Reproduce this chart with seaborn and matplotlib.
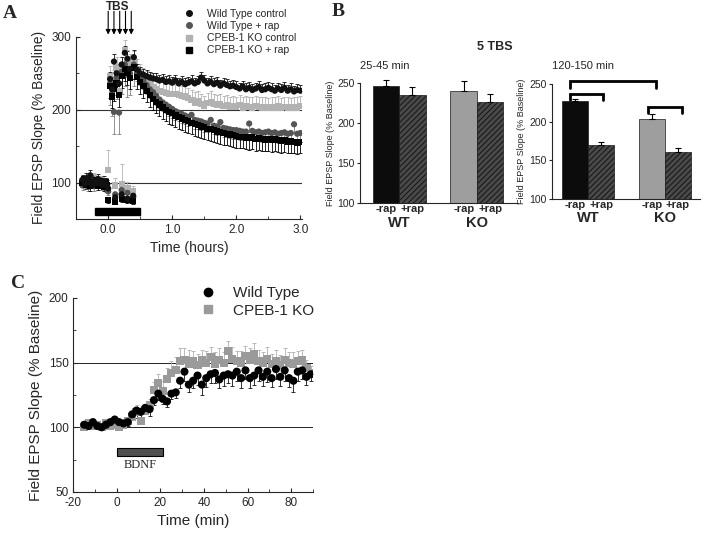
import numpy as np
import pandas as pd
import matplotlib
matplotlib.use('Agg')
import matplotlib.pyplot as plt
from matplotlib.lines import Line2D
from matplotlib.patches import Rectangle
from matplotlib.ticker import MultipleLocator
import seaborn as sns

# ---------------- Panel A : 5 TBS time course ----------------
series_a = ['Wild Type control', 'Wild Type + rap', 'CPEB-1 KO control', 'CPEB-1 KO + rap']
colors_a = {'Wild Type control': '#111111', 'Wild Type + rap': '#555555',
            'CPEB-1 KO control': '#b2b2b2', 'CPEB-1 KO + rap': '#000000'}
markers_a = {'Wild Type control': 'o', 'Wild Type + rap': 'o',
             'CPEB-1 KO control': 's', 'CPEB-1 KO + rap': 's'}
err_up_a = {'Wild Type control': True, 'Wild Type + rap': False,
            'CPEB-1 KO control': True, 'CPEB-1 KO + rap': False}

base_t = [-0.40, -0.37, -0.34, -0.31, -0.28, -0.25, -0.22, -0.19, -0.16, -0.13, -0.10, -0.07, -0.04, -0.02]
tbs_t = [0.03, 0.06, 0.09, 0.13, 0.17, 0.21, 0.26, 0.30, 0.34, 0.40]
low_t = [0.0, 0.11, 0.21, 0.30, 0.39]
post_t = np.arange(0.45, 3.001, 0.05)

wt_ctrl_base = [104, 98, 106, 101, 110, 96, 103, 99, 105, 100, 97, 102, 99, 96]
wt_rap_base = [96, 103, 100, 94, 99, 106, 95, 101, 98, 104, 96, 100, 93, 98]
ko_ctrl_base = [102, 99, 95, 104, 100, 98, 107, 96, 101, 99, 103, 97, 100, 95]
ko_rap_base = [100, 105, 97, 102, 95, 101, 98, 104, 96, 102, 99, 94, 101, 97]

wt_ctrl_tbs = [242, 228, 266, 250, 236, 262, 278, 270, 256, 272]
wt_rap_tbs = [236, 222, 197, 244, 196, 252, 262, 248, 250, 262]
ko_ctrl_tbs = [246, 232, 240, 258, 226, 258, 282, 268, 262, 266]
ko_rap_tbs = [232, 218, 228, 236, 220, 246, 256, 250, 244, 258]

wt_ctrl_low = [92, 80, 84, 78, 82]
wt_rap_low = [88, 84, 90, 86, 80]
ko_ctrl_low = [117, 96, 98, 92, 88]
ko_rap_low = [76, 74, 78, 76, 75]

wt_ctrl_post = [255, 250, 248, 246, 244, 243, 242, 240, 241, 238,
                239, 237, 240, 236, 238, 235, 237, 239, 236, 238,
                244, 240, 236, 238, 235, 237, 233, 236, 234, 232,
                233, 231, 229, 232, 228, 230, 227, 229, 231, 227,
                228, 230, 228, 226, 229, 227, 230, 226, 228, 225,
                227, 226]
wt_rap_post = [252, 246, 240, 234, 228, 224, 219, 214, 210, 207,
               204, 201, 198, 196, 194, 192, 190, 193, 186, 185,
               184, 182, 181, 186, 178, 177, 183, 175, 174, 173,
               172, 172, 171, 170, 170, 181, 171, 169, 170, 168,
               169, 170, 168, 169, 167, 168, 169, 167, 168, 180,
               167, 168]
ko_ctrl_post = [255, 248, 243, 239, 235, 231, 228, 226, 224, 223,
                222, 221, 222, 220, 219, 218, 216, 213, 210, 212,
                208, 205, 209, 211, 208, 206, 207, 205, 206, 204,
                205, 204, 206, 203, 205, 204, 203, 205, 204, 203,
                204, 202, 204, 203, 205, 202, 204, 203, 202, 204,
                203, 205]
ko_rap_post = [245, 238, 232, 226, 220, 215, 211, 207, 203, 200,
               197, 195, 192, 190, 188, 186, 184, 182, 180, 179,
               177, 176, 174, 173, 172, 170, 169, 168, 167, 166,
               165, 164, 163, 163, 162, 161, 162, 160, 161, 160,
               159, 160, 158, 159, 158, 157, 158, 156, 157, 156,
               155, 156]

base_sem = {'Wild Type control': 7, 'Wild Type + rap': 6, 'CPEB-1 KO control': 6, 'CPEB-1 KO + rap': 6}
tbs_sem = {'Wild Type control': 10, 'Wild Type + rap': 30, 'CPEB-1 KO control': 14, 'CPEB-1 KO + rap': 16}
low_sem = {'Wild Type control': [6, 6, 6, 6, 6], 'Wild Type + rap': [5, 5, 5, 5, 5],
           'CPEB-1 KO control': [28, 10, 28, 9, 8], 'CPEB-1 KO + rap': [4, 4, 4, 4, 4]}
post_sem = {'Wild Type control': 8, 'Wild Type + rap': 12, 'CPEB-1 KO control': 14, 'CPEB-1 KO + rap': 16}

tbs_times = [0.0, 0.09, 0.18, 0.27, 0.36]
rap_period = (-0.2, 0.5)

# ---------------- Panel B : bar summaries ----------------
groups_b = ['WT', 'KO']
treat_b = ['-rap', '+rap']
early_mean = [247, 235, 240, 227]   # WT-rap, WT+rap, KO-rap, KO+rap
early_sem = [7, 10, 13, 10]
late_mean = [227, 170, 204, 161]
late_sem = [3, 4, 7, 5]
bar_colors = ['#0c0c0c', '#4a4a4a', '#9e9e9e', '#4a4a4a']
bar_hatch = ['', '//////', '', '//////']
# brackets (x0, x1, top, leg bottom) on the 120-150 min panel
brackets = [(-0.23, 0.20, 237, 229), (-0.23, 0.88, 253, 245), (0.78, 1.23, 220, 212)]

# ---------------- Panel C : BDNF ----------------
time_c = np.arange(-15, 90, 2)
wt_c = [102, 101, 104, 101, 100, 102, 104, 106, 104, 103,
        104, 110, 113, 112, 115, 114, 121, 126, 122, 120,
        126, 127, 136, 143, 133, 136, 140, 133, 138, 141,
        142, 137, 140, 141, 140, 143, 138, 144, 138, 140,
        144, 139, 143, 138, 145, 139, 144, 138, 136, 143,
        144, 139, 141]
wt_c_err = [2, 2, 2, 2, 2, 2, 2, 2, 2, 2,
            3, 4, 6, 4, 4, 5, 4, 5, 4, 4,
            4, 4, 6, 7, 6, 6, 7, 8, 7, 7,
            8, 7, 8, 7, 8, 7, 8, 7, 8, 7,
            8, 7, 8, 7, 8, 7, 8, 7, 9, 7,
            7, 6, 5]
ko_c = [100, 103, 101, 102, 100, 103, 101, 102, 100, 102,
        105, 108, 112, 105, 113, 117, 129, 134, 128, 137,
        142, 144, 151, 152, 149, 151, 148, 152, 150, 154,
        149, 152, 150, 159, 153, 151, 150, 155, 152, 157,
        151, 150, 153, 149, 151, 148, 152, 150, 149, 151,
        152, 146, 142]
ko_c_err = [2, 3, 2, 3, 2, 3, 2, 3, 2, 3,
            3, 4, 5, 8, 4, 5, 6, 7, 8, 9,
            9, 10, 10, 9, 11, 8, 9, 8, 9, 8,
            9, 9, 8, 8, 9, 8, 9, 8, 9, 8,
            9, 8, 9, 8, 9, 8, 9, 8, 9, 8,
            8, 6, 5]
bdnf_period = (0, 21)

sns.set_style('ticks')
plt.rcParams['font.family'] = ['Liberation Sans', 'DejaVu Sans']
plt.rcParams['axes.unicode_minus'] = False
plt.rcParams['hatch.color'] = '#000000'
plt.rcParams['hatch.linewidth'] = 0.8
plt.rcParams['axes.linewidth'] = 0.8

fig = plt.figure(figsize=(7.05, 5.33), dpi=100)

# ======== A ========
axA = fig.add_axes([0.108, 0.589, 0.320, 0.342])
parts = {
    'Wild Type control': (wt_ctrl_base, wt_ctrl_tbs, wt_ctrl_low, wt_ctrl_post),
    'Wild Type + rap': (wt_rap_base, wt_rap_tbs, wt_rap_low, wt_rap_post),
    'CPEB-1 KO control': (ko_ctrl_base, ko_ctrl_tbs, ko_ctrl_low, ko_ctrl_post),
    'CPEB-1 KO + rap': (ko_rap_base, ko_rap_tbs, ko_rap_low, ko_rap_post),
}
draw_order = ['CPEB-1 KO control', 'Wild Type + rap', 'CPEB-1 KO + rap', 'Wild Type control']
rows = []
for name in draw_order:
    b, t, l, p = parts[name]
    t_all = list(base_t) + list(tbs_t) + list(low_t) + list(post_t)
    v_all = list(b) + list(t) + list(l) + list(p)
    e_all = ([base_sem[name]] * len(b) + [tbs_sem[name]] * len(t)
             + list(low_sem[name]) + [post_sem[name]] * len(p))
    for ti, vi, ei in zip(t_all, v_all, e_all):
        rows.append({'time': ti, 'value': vi, 'err': ei, 'series': name})
df_a = pd.DataFrame(rows)

for name in draw_order:
    d = df_a[df_a['series'] == name]
    zeros = np.zeros(len(d))
    yerr = [zeros, d['err']] if err_up_a[name] else [d['err'], zeros]
    ecol = '#808080' if name == 'Wild Type + rap' else colors_a[name]
    axA.errorbar(d['time'], d['value'], yerr=yerr, fmt='none', ecolor=ecol,
                 elinewidth=0.6, capsize=1.6, capthick=0.6, zorder=1)

sns.scatterplot(data=df_a, x='time', y='value', hue='series', style='series',
                palette=colors_a, markers=markers_a, s=20, linewidth=0,
                legend=False, ax=axA, zorder=2)

axA.axhline(100, color='#333333', lw=0.8, zorder=0)
axA.axhline(200, color='#333333', lw=0.8, zorder=0)
axA.add_patch(Rectangle((rap_period[0], 56), rap_period[1] - rap_period[0], 9,
                        facecolor='black', edgecolor='black', zorder=3))
for t in tbs_times:
    axA.annotate('', xy=(t, 303), xytext=(t, 335), annotation_clip=False,
                 arrowprops=dict(arrowstyle='-|>', color='black', lw=0.8,
                                 mutation_scale=7, shrinkA=0, shrinkB=0))
axA.text(0.15, 341, 'TBS', ha='center', va='center', fontsize=8.5, fontweight='bold')

axA.set_xlim(-0.5, 3.02)
axA.set_ylim(50, 300)
axA.xaxis.set_major_locator(MultipleLocator(1.0))
axA.xaxis.set_minor_locator(MultipleLocator(0.5))
axA.yaxis.set_major_locator(MultipleLocator(100))
axA.yaxis.set_minor_locator(MultipleLocator(50))
axA.set_xticks([0, 1, 2, 3], labels=['0.0', '1.0', '2.0', '3.0'])
axA.tick_params(which='both', direction='in', labelsize=8.5)
axA.tick_params(which='major', length=3)
axA.tick_params(which='minor', length=2)
axA.set_xlabel('Time (hours)', fontsize=10)
axA.set_ylabel('Field EPSP Slope (% Baseline)', fontsize=10)
sns.despine(ax=axA)

handles_a = [Line2D([], [], ls='none', marker=markers_a[n], color=colors_a[n], markersize=4)
             for n in series_a]
fig.legend(handles_a, series_a, loc='upper left', bbox_to_anchor=(184 / 705, 0.983),
           frameon=False, fontsize=7.5, handlelength=1, handletextpad=1.2,
           labelspacing=0.2, borderpad=0, borderaxespad=0)


# ======== B ========
def draw_bars(ax, means, sems):
    df = pd.DataFrame({'genotype': ['WT', 'WT', 'KO', 'KO'],
                       'treatment': ['-rap', '+rap', '-rap', '+rap'],
                       'value': means})
    sns.barplot(data=df, x='genotype', y='value', hue='treatment', order=groups_b,
                hue_order=treat_b, width=0.68, errorbar=None, legend=False,
                palette=['#000000', '#444444'], ax=ax)
    bars = sorted(ax.patches, key=lambda p: p.get_x())
    cx = []
    for p, c, h in zip(bars, bar_colors, bar_hatch):
        p.set_facecolor(c)
        p.set_edgecolor('#1a1a1a')
        p.set_linewidth(0.5)
        p.set_hatch(h)
        cx.append(p.get_x() + p.get_width() / 2)
    heights = [p.get_height() for p in bars]
    ax.errorbar(cx, heights, yerr=[np.zeros(len(sems)), sems], fmt='none', ecolor='black',
                elinewidth=0.8, capsize=2, capthick=0.8, clip_on=False, zorder=4)
    ax.set_ylim(100, 250)
    ax.set_yticks([100, 150, 200, 250])
    ax.set_xticks(cx, labels=['-rap', '+rap', '-rap', '+rap'])
    for lab in ax.get_xticklabels():
        lab.set_fontweight('bold')
        lab.set_fontsize(8)
    ax.tick_params(axis='x', length=0, pad=1)
    ax.tick_params(axis='y', direction='out', length=2.5, labelsize=7.5, pad=1.5)
    for i, g in enumerate(groups_b):
        ax.text(i, -0.17, g, transform=ax.get_xaxis_transform(), ha='center', va='center',
                fontsize=10.5, fontweight='bold')
    ax.set_xlabel('')
    ax.set_ylabel('Field EPSP Slope (% Baseline)', fontsize=6.5, labelpad=2)
    sns.despine(ax=ax)


axB1 = fig.add_axes([0.511, 0.619, 0.224, 0.225])
draw_bars(axB1, early_mean, early_sem)
axB1.set_xlim(-0.5, 1.53)
axB1.text(0.0, 1.14, '25-45 min', transform=axB1.transAxes, ha='left', va='center', fontsize=8)

axB2 = fig.add_axes([0.783, 0.627, 0.210, 0.216])
draw_bars(axB2, late_mean, late_sem)
axB2.set_xlim(-0.47, 1.46)
axB2.text(0.0, 1.157, '120-150 min', transform=axB2.transAxes, ha='left', va='center', fontsize=8)
for x0, x1, top, bot in brackets:
    axB2.plot([x0, x0, x1, x1], [bot, top, top, bot], color='black', lw=2,
              clip_on=False, solid_joinstyle='miter', zorder=5)

fig.text(495 / 705, 1 - 47 / 533, '5 TBS', ha='center', va='center', fontsize=9, fontweight='bold')

# ======== C ========
axC = fig.add_axes([0.104, 0.077, 0.340, 0.364])
df_c = pd.concat([
    pd.DataFrame({'time': time_c, 'value': ko_c, 'err': ko_c_err, 'group': 'CPEB-1 KO'}),
    pd.DataFrame({'time': time_c, 'value': wt_c, 'err': wt_c_err, 'group': 'Wild Type'}),
], ignore_index=True)
colors_c = {'Wild Type': '#000000', 'CPEB-1 KO': '#9a9a9a'}
markers_c = {'Wild Type': 'o', 'CPEB-1 KO': 's'}

d = df_c[df_c['group'] == 'CPEB-1 KO']
axC.errorbar(d['time'], d['value'], yerr=[np.zeros(len(d)), d['err']], fmt='none',
             ecolor='#b0b0b0', elinewidth=0.6, capsize=1.6, capthick=0.6, zorder=1)
d = df_c[df_c['group'] == 'Wild Type']
axC.errorbar(d['time'], d['value'], yerr=[d['err'], np.zeros(len(d))], fmt='none',
             ecolor='#111111', elinewidth=0.6, capsize=1.6, capthick=0.6, zorder=1)
sns.scatterplot(data=df_c, x='time', y='value', hue='group', style='group',
                palette=colors_c, markers=markers_c, s=34, linewidth=0,
                legend=False, ax=axC, zorder=2)

axC.axhline(100, color='#222222', lw=0.7, zorder=0)
axC.axhline(150, color='#222222', lw=0.7, zorder=0)
axC.add_patch(Rectangle((bdnf_period[0], 78), bdnf_period[1] - bdnf_period[0], 6,
                        facecolor='#4f4f4f', edgecolor='black', lw=0.8, zorder=3))
axC.text(sum(bdnf_period) / 2, 71, 'BDNF', ha='center', va='center', fontsize=9,
         family=['Liberation Serif', 'DejaVu Serif'])

axC.set_xlim(-20, 90)
axC.set_ylim(50, 200)
axC.xaxis.set_major_locator(MultipleLocator(20))
axC.xaxis.set_minor_locator(MultipleLocator(10))
axC.yaxis.set_major_locator(MultipleLocator(50))
axC.yaxis.set_minor_locator(MultipleLocator(25))
axC.tick_params(which='both', direction='in', labelsize=8.5)
axC.tick_params(which='major', length=3)
axC.tick_params(which='minor', length=2)
axC.set_xlabel('Time (min)', fontsize=11)
axC.set_ylabel('Field EPSP Slope (% Baseline)', fontsize=11)
sns.despine(ax=axC)

handles_c = [Line2D([], [], ls='none', marker=markers_c[n], color=colors_c[n], markersize=6)
             for n in ['Wild Type', 'CPEB-1 KO']]
axC.legend(handles_c, ['Wild Type', 'CPEB-1 KO'], loc='upper left',
           bbox_to_anchor=(200 / 705, 1 - 286 / 533), bbox_transform=fig.transFigure,
           frameon=False, fontsize=11, handlelength=1, handletextpad=1.15,
           labelspacing=0.25, borderpad=0, borderaxespad=0)

# panel letters
serif = ['Liberation Serif', 'DejaVu Serif']
fig.text(10 / 705, 1 - 14 / 533, 'A', ha='center', va='center', fontsize=14, fontweight='bold', family=serif)
fig.text(338 / 705, 1 - 12 / 533, 'B', ha='center', va='center', fontsize=14, fontweight='bold', family=serif)
fig.text(18 / 705, 1 - 284 / 533, 'C', ha='center', va='center', fontsize=14, fontweight='bold', family=serif)

fig.savefig('out.png', dpi=100)
